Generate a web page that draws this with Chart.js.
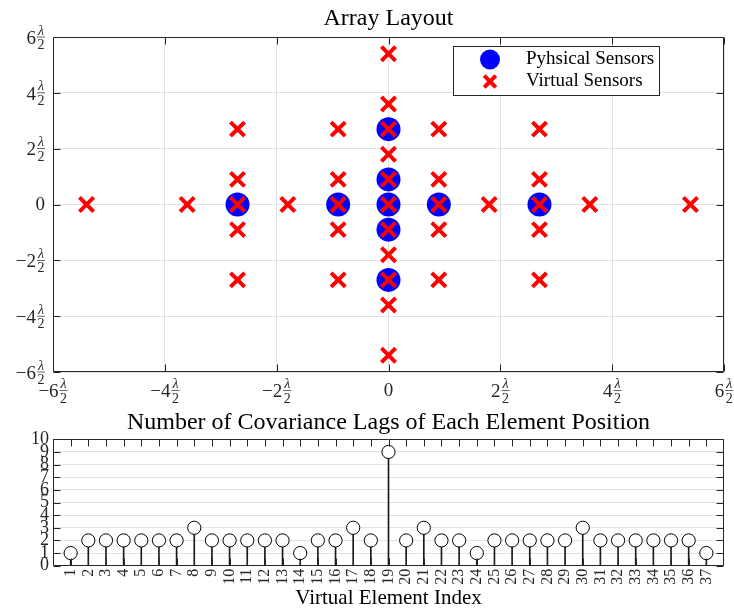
<!DOCTYPE html>
<html>
<head>
<meta charset="utf-8">
<script src="https://cdn.jsdelivr.net/npm/chart.js@4.4.1/dist/chart.umd.min.js"></script>
<style>
  body { margin: 0; background: #fff; }
  #wrap { position: relative; width: 734px; height: 613px; }
  #wrap canvas { position: absolute; left: 0; }
</style>
</head>
<body>
<div id="wrap">
  <canvas id="layout" width="734" height="408" style="top:0"></canvas>
  <canvas id="lags" width="734" height="205" style="top:408px"></canvas>
</div>
<script>
// sensor positions, in units of lambda/2
const physX = [0, 0, 0, 0, 0, -2.7, -0.9, 0.9, 2.7];
const physY = [2.7, 0.9, 0, -0.9, -2.7, 0, 0, 0, 0];

// difference co-array (virtual sensors)
const virtX = [-5.4, -3.6, -2.7, -1.8, -0.9, 0, 0.9, 1.8, 2.7, 3.6, 5.4,
               0, 0, 0, 0, 0, 0, 0, 0, 0, 0,
               -2.7, -2.7, -2.7, -2.7, -0.9, -0.9, -0.9, -0.9,
               0.9, 0.9, 0.9, 0.9, 2.7, 2.7, 2.7, 2.7];
const virtY = [0, 0, 0, 0, 0, 0, 0, 0, 0, 0, 0,
               5.4, 3.6, 2.7, 1.8, 0.9, -0.9, -1.8, -2.7, -3.6, -5.4,
               2.7, 0.9, -0.9, -2.7, 2.7, 0.9, -0.9, -2.7,
               2.7, 0.9, -0.9, -2.7, 2.7, 0.9, -0.9, -2.7];

const layoutTicks = [-6, -4, -2, 0, 2, 4, 6];

// number of lags per virtual element
const lagIndex = [1, 2, 3, 4, 5, 6, 7, 8, 9, 10, 11, 12, 13, 14, 15, 16, 17, 18, 19,
                  20, 21, 22, 23, 24, 25, 26, 27, 28, 29, 30, 31, 32, 33, 34, 35, 36, 37];
const lagCount = [1, 2, 2, 2, 2, 2, 2, 3, 2, 2, 2, 2, 2, 1, 2, 2, 3, 2, 9,
                  2, 3, 2, 2, 1, 2, 2, 2, 2, 2, 3, 2, 2, 2, 2, 2, 2, 1];
const lagTicks = [0, 1, 2, 3, 4, 5, 6, 7, 8, 9, 10];

const SERIF = '"Liberation Serif", "DejaVu Serif", serif';
const AXIS = '#262626';
const GRID = '#e2e2e2';
const BLUE = '#0000ff';
const RED = '#ff0000';

Chart.defaults.font.family = SERIF;
Chart.defaults.color = AXIS;

// matlab style box with inward ticks on all four sides
const boxPlugin = {
  id: 'box',
  afterDraw(chart, args, opts) {
    const { ctx, chartArea: a, scales } = chart;
    const L = Math.round(a.left) + 0.5, R = Math.round(a.right) - 0.5;
    const T = Math.round(a.top) + 0.5, B = Math.round(a.bottom) - 0.5;
    const len = opts.tickLen || 7;
    ctx.save();
    ctx.strokeStyle = AXIS;
    ctx.lineWidth = 1;
    ctx.beginPath();
    (opts.xTicks || []).forEach(v => {
      const px = Math.round(scales.x.getPixelForValue(v)) + 0.5;
      ctx.moveTo(px, B); ctx.lineTo(px, B - len);
      ctx.moveTo(px, T); ctx.lineTo(px, T + len);
    });
    (opts.yTicks || []).forEach(v => {
      const py = Math.round(scales.y.getPixelForValue(v)) + 0.5;
      ctx.moveTo(L, py); ctx.lineTo(L + len, py);
      ctx.moveTo(R, py); ctx.lineTo(R - len, py);
    });
    ctx.rect(L, T, R - L, B - T);
    ctx.stroke();
    ctx.restore();
  }
};

// "n λ/2" tick labels with a stacked fraction
function drawLambda(ctx, v, x, yBar, align) {
  const numFont = '19px ' + SERIF, fracFont = '14px ' + SERIF;
  ctx.fillStyle = AXIS;
  if (v === 0) {
    ctx.font = numFont;
    ctx.textAlign = align;
    ctx.textBaseline = 'middle';
    ctx.fillText('0', x, yBar + 0.5);
    return;
  }
  const num = (v < 0 ? '\u2212' : '') + Math.abs(v);
  ctx.font = numFont;
  const nw = ctx.measureText(num).width;
  ctx.font = fracFont;
  const fw = Math.max(ctx.measureText('\u03bb').width, ctx.measureText('2').width) + 1;
  const gap = 1;
  const total = nw + gap + fw;
  const x0 = align === 'right' ? x - total : x - total / 2;
  ctx.textBaseline = 'alphabetic';
  ctx.textAlign = 'left';
  ctx.font = numFont;
  ctx.fillText(num, x0, yBar + 6.8);
  const fx = x0 + nw + gap + fw / 2;
  ctx.textAlign = 'center';
  ctx.font = 'italic ' + fracFont;
  ctx.fillText('\u03bb', fx, yBar - 2.5);
  ctx.font = fracFont;
  ctx.fillText('2', fx, yBar + 12);
  ctx.fillRect(x0 + nw + gap, yBar - 0.35, fw, 0.7);
}

const lambdaTicks = {
  id: 'lambdaTicks',
  afterDraw(chart) {
    const { ctx, chartArea: a, scales } = chart;
    ctx.save();
    layoutTicks.forEach(v => {
      drawLambda(ctx, v, scales.x.getPixelForValue(v), a.bottom + 18.5, 'center');
      drawLambda(ctx, v, a.left - 8, scales.y.getPixelForValue(v), 'right');
    });
    ctx.restore();
  }
};

// boxed legend inside the plot area
const legendBox = {
  id: 'legendBox',
  afterDraw(chart, args, opts) {
    const { ctx } = chart;
    const b = opts.box;
    ctx.save();
    ctx.fillStyle = '#fff';
    ctx.fillRect(b.x, b.y, b.w, b.h);
    ctx.strokeStyle = AXIS;
    ctx.lineWidth = 1;
    ctx.strokeRect(b.x + 0.5, b.y + 0.5, b.w, b.h);
    chart.data.datasets.forEach((ds, i) => {
      const cy = b.y + 13.5 + i * 22;
      const cx = b.x + 37;
      if (ds.pointStyle === 'circle') {
        ctx.fillStyle = ds.backgroundColor;
        ctx.beginPath();
        ctx.arc(cx, cy, 10, 0, Math.PI * 2);
        ctx.fill();
      } else {
        const r = 5.8;
        ctx.strokeStyle = ds.borderColor;
        ctx.lineWidth = 4;
        ctx.beginPath();
        ctx.moveTo(cx - r, cy - r); ctx.lineTo(cx + r, cy + r);
        ctx.moveTo(cx + r, cy - r); ctx.lineTo(cx - r, cy + r);
        ctx.stroke();
      }
      ctx.fillStyle = '#000';
      ctx.font = '19px ' + SERIF;
      ctx.textAlign = 'left';
      ctx.textBaseline = 'middle';
      ctx.fillText(ds.label, b.x + 73, cy);
    });
    ctx.restore();
  }
};

function noPad(s) {
  s.paddingLeft = 0; s.paddingRight = 0; s.paddingTop = 0; s.paddingBottom = 0;
}

new Chart(document.getElementById('layout'), {
  type: 'scatter',
  data: {
    datasets: [
      {
        label: 'Pyhsical Sensors',
        data: physX.map((x, i) => ({ x, y: physY[i] })),
        pointStyle: 'circle',
        pointRadius: 12,
        pointHoverRadius: 12,
        backgroundColor: BLUE,
        borderColor: BLUE,
        borderWidth: 0,
        order: 2
      },
      {
        label: 'Virtual Sensors',
        data: virtX.map((x, i) => ({ x, y: virtY[i] })),
        pointStyle: 'crossRot',
        pointRadius: 10,
        pointHoverRadius: 10,
        borderColor: RED,
        backgroundColor: RED,
        borderWidth: 4,
        order: 1
      }
    ]
  },
  options: {
    responsive: false,
    animation: false,
    devicePixelRatio: 1,
    events: [],
    layout: { autoPadding: false, padding: { left: 0, right: 10, top: 0, bottom: 0 } },
    plugins: {
      legend: { display: false },
      tooltip: { enabled: false },
      title: {
        display: true,
        fullSize: false,
        text: 'Array Layout',
        color: '#000',
        font: { size: 24, weight: 'normal', lineHeight: 1.2 },
        padding: { top: 4, bottom: 4.2 }
      },
      box: { xTicks: layoutTicks, yTicks: layoutTicks, tickLen: 7 },
      legendBox: { box: { x: 453, y: 46, w: 206, h: 49 } }
    },
    scales: {
      x: {
        type: 'linear', min: -6, max: 6,
        ticks: { stepSize: 2, display: false },
        grid: { color: GRID, drawTicks: false },
        border: { display: false },
        afterFit: s => { s.height = 36; noPad(s); }
      },
      y: {
        type: 'linear', min: -6, max: 6,
        ticks: { stepSize: 2, display: false },
        grid: { color: GRID, drawTicks: false },
        border: { display: false },
        afterFit: s => { s.width = 53; noPad(s); }
      }
    }
  },
  plugins: [boxPlugin, lambdaTicks, legendBox]
});

const lagPoints = lagIndex.map((x, i) => ({ x, y: lagCount[i] }));

new Chart(document.getElementById('lags'), {
  type: 'bar',
  data: {
    datasets: [
      {
        type: 'scatter',
        label: 'lags',
        data: lagPoints,
        pointStyle: 'circle',
        pointRadius: 6.6,
        pointHoverRadius: 6.6,
        borderColor: '#000',
        backgroundColor: '#fff',
        borderWidth: 1,
        order: 1
      },
      {
        type: 'bar',
        label: 'stems',
        data: lagPoints,
        backgroundColor: '#1a1a1a',
        barThickness: 1,
        order: 2
      }
    ]
  },
  options: {
    responsive: false,
    animation: false,
    devicePixelRatio: 1,
    events: [],
    layout: { autoPadding: false, padding: { left: 0, right: 10, top: 0, bottom: 0 } },
    plugins: {
      legend: { display: false },
      tooltip: { enabled: false },
      title: {
        display: true,
        fullSize: false,
        text: 'Number of Covariance Lags of Each Element Position',
        color: '#000',
        font: { size: 24, weight: 'normal', lineHeight: 1.2 },
        padding: { top: 0, bottom: 2.5 }
      },
      box: { xTicks: lagIndex, yTicks: lagTicks, tickLen: 7 }
    },
    scales: {
      x: {
        type: 'linear', min: 0, max: 38, offset: false,
        ticks: {
          stepSize: 1, autoSkip: false, minRotation: 90, maxRotation: 90,
          padding: 3, color: AXIS, font: { size: 16 },
          callback: v => lagIndex.includes(v) ? String(v) : null
        },
        grid: { display: false, offset: false, drawTicks: false },
        border: { display: false },
        title: {
          display: true, text: 'Virtual Element Index', color: '#000',
          font: { size: 21, lineHeight: 1.2 }, padding: { top: 0, bottom: 2 }
        },
        afterFit: s => { s.height = 47.3; noPad(s); }
      },
      y: {
        type: 'linear', min: 0, max: 10,
        ticks: { stepSize: 1, autoSkip: false, padding: 4, color: AXIS, font: { size: 18 } },
        grid: { color: GRID, drawTicks: false },
        border: { display: false },
        afterFit: s => { s.width = 53; noPad(s); }
      }
    }
  },
  plugins: [boxPlugin]
});
</script>
</body>
</html>
